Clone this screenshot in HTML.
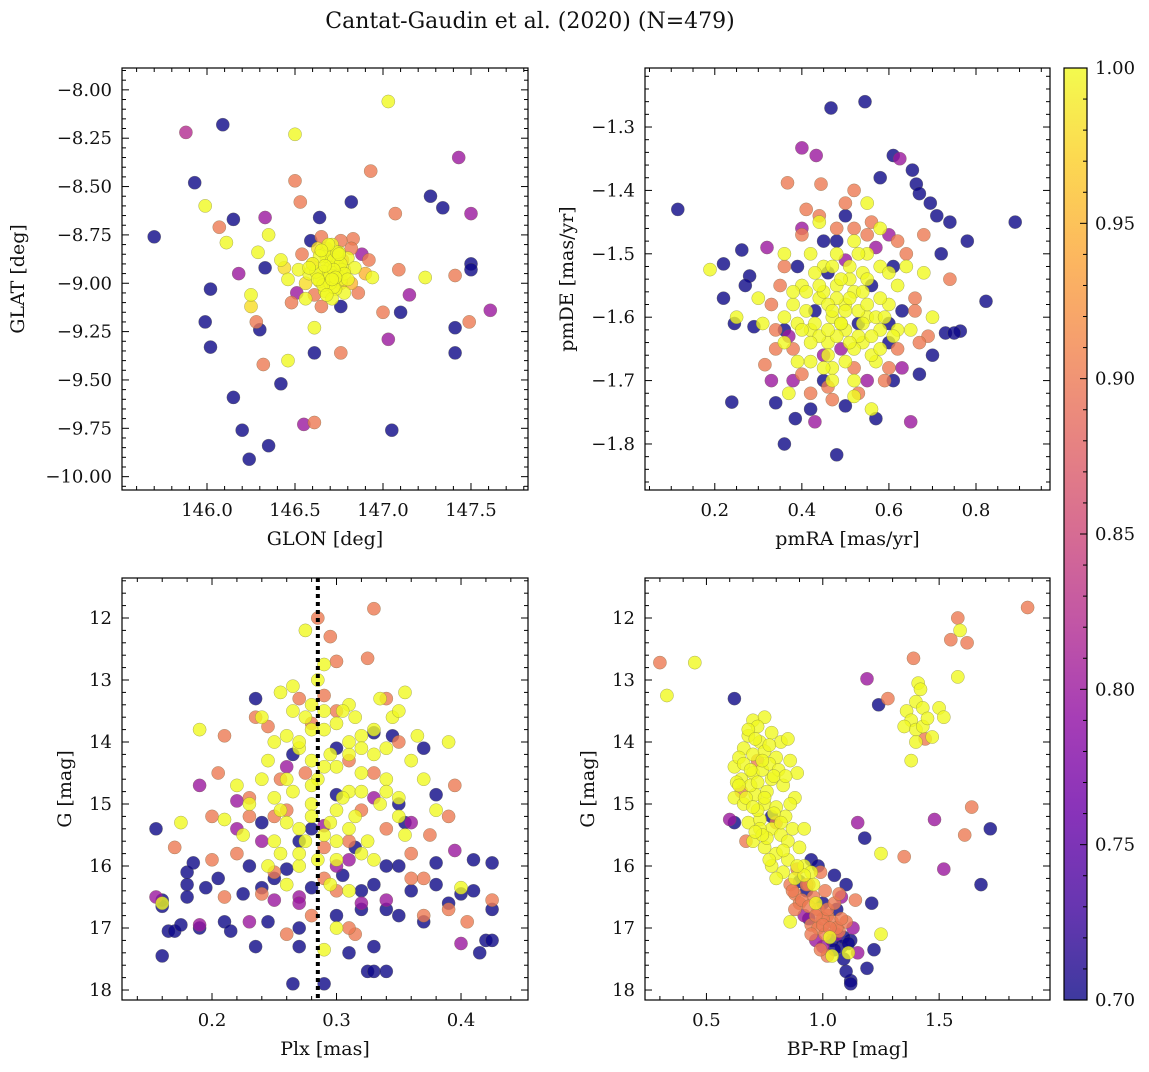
<!DOCTYPE html>
<html><head><meta charset="utf-8">
<style>
html,body{margin:0;padding:0;background:#fff;}
svg text{font-family:"DejaVu Serif","Liberation Serif",serif;fill:#111;}
</style></head>
<body>
<svg id="fig" width="1149" height="1067" viewBox="0 0 1149 1067" xmlns="http://www.w3.org/2000/svg">
<text x="530" y="28" font-size="22" text-anchor="middle">Cantat-Gaudin et al. (2020) (N=479)</text>
</svg>
<script>
// ---------- Panel 1: GLON vs GLAT ----------
const glon = [
145.70,145.88,146.09,145.93,145.99,146.07,146.15,146.11,146.02,146.18,
145.99,146.02,146.25,146.25,146.28,146.15,146.20,146.24,146.35,146.42,
146.32,146.30,146.33,146.35,146.50,146.50,146.53,146.64,146.29,146.33,
146.46,146.55,146.61,146.61,146.61,146.76,146.76,146.94,147.00,147.07,
146.93,146.82,146.83,147.03,147.03,147.05,147.09,147.15,147.10,147.24,
147.27,147.34,147.41,147.41,147.41,147.43,147.50,147.50,147.49,147.50,
147.61,
146.67,146.71,146.75,146.73,146.76,146.69,146.65,146.78,146.80,146.75,
146.63,146.60,146.58,146.56,146.52,146.54,146.59,146.65,146.71,146.76,
146.82,146.84,146.82,146.78,146.73,146.67,146.61,146.56,146.51,146.46,
146.44,146.42,146.48,146.65,146.71,146.86,146.90,146.88,146.92,146.72,
146.68,146.74,146.76,146.70,
146.68,146.70,146.72,146.74,146.66,146.64,146.70,146.76,146.72,146.68,
146.62,146.66,146.74,146.78,146.70,146.64,146.72,146.68,146.60,146.76,
146.58,146.80,146.69,146.73,146.67,146.71,146.75,146.63,146.65,146.77];
const glat = [
-8.76,-8.22,-8.18,-8.48,-8.60,-8.71,-8.67,-8.79,-9.03,-8.95,
-9.20,-9.33,-9.06,-9.12,-9.20,-9.59,-9.76,-9.91,-9.84,-9.52,
-9.42,-9.24,-8.66,-8.75,-8.23,-8.47,-8.58,-8.66,-8.84,-8.92,
-9.40,-9.73,-9.72,-9.36,-9.23,-9.12,-9.36,-8.97,-9.15,-8.64,
-8.42,-8.58,-8.77,-8.06,-9.29,-9.76,-8.93,-9.06,-9.15,-8.97,
-8.55,-8.61,-8.96,-9.23,-9.36,-8.35,-8.64,-8.90,-9.20,-8.93,
-9.14,
-8.85,-8.88,-8.90,-8.95,-8.98,-8.92,-8.97,-8.93,-8.87,-8.84,
-8.82,-8.90,-8.95,-9.00,-8.93,-8.85,-8.78,-8.76,-8.80,-8.78,
-8.82,-8.92,-9.00,-9.05,-9.03,-9.04,-9.06,-9.08,-9.05,-8.98,
-8.92,-8.88,-9.10,-9.12,-9.08,-9.05,-8.95,-8.85,-8.88,-8.98,
-8.89,-8.87,-8.93,-9.00,
-8.86,-8.92,-8.88,-8.96,-8.94,-8.99,-9.00,-8.90,-9.02,-8.82,
-8.94,-9.01,-8.84,-8.95,-8.96,-8.86,-8.93,-9.06,-8.90,-9.00,
-8.92,-8.98,-8.80,-8.97,-8.91,-8.98,-8.85,-8.98,-8.83,-8.88];
const prob1 = [
.7,.82,.7,.7,1,.9,.7,1,.7,.8,
.7,.7,1,.98,.9,.7,.7,.7,.7,.7,
.9,.7,.8,1,1,.9,.9,.7,1,.7,
1,.8,.9,.7,1,.7,.9,1,.9,.9,
.9,.7,.9,1,.8,.7,.9,.8,.7,1,
.7,.7,.9,.7,.7,.8,.8,.7,.9,.7,
.8,
1,1,1,1,1,1,1,1,1,1,
.98,.95,1,.98,1,.9,.7,.9,1,.9,
.9,1,.95,1,1,1,.9,1,.8,1,
.98,1,.9,.9,1,.9,.95,.8,.9,1,
1,1,1,1,
1,1,1,1,1,1,1,1,1,.9,
1,1,1,1,1,1,1,1,1,.95,
1,1,1,1,1,1,1,1,1,.9];

// ---------- Panel 2: pmRA vs pmDE ----------
const pmra = [
0.115,0.467,0.545,0.89,0.823,0.764,0.22,0.262,0.189,0.239,
0.36,0.48,0.444,0.367,0.40,0.654,0.663,0.625,0.433,0.61,
0.22,0.245,0.25,0.29,0.31,0.33,0.315,0.34,0.37,0.385,
0.42,0.43,0.46,0.50,0.52,0.56,0.57,0.61,0.65,0.67,
0.70,0.73,0.75,0.74,0.72,0.71,0.68,0.695,0.67,0.58,
0.52,0.55,0.32,0.28,0.30,0.27,0.36,0.74,0.78,0.70,
0.69,0.60,
0.42,0.45,0.48,0.50,0.52,0.55,0.47,0.44,0.40,0.38,
0.42,0.46,0.50,0.54,0.58,0.60,0.62,0.58,0.55,0.52,
0.48,0.44,0.40,0.36,0.35,0.36,0.38,0.42,0.47,0.52,
0.57,0.62,0.65,0.66,0.64,0.62,0.58,0.50,0.46,0.43,
0.53,0.49,0.56,0.60,0.39,0.37,0.45,0.57,0.63,0.40,
0.45,0.55,0.60,0.67,0.68,0.33,0.34,0.41,0.50,0.54,
0.48,0.51,0.46,0.53,0.44,0.58,0.41,0.62,0.39,0.49,
0.45,0.47,0.49,0.51,0.53,0.55,0.57,0.43,0.41,0.46,
0.48,0.50,0.52,0.54,0.56,0.44,0.42,0.47,0.49,0.51,
0.53,0.55,0.40,0.38,0.59,0.61,0.45,0.47,0.52,0.56,
0.43,0.50,0.58,0.36,0.39,0.60,0.46,0.54,0.48,0.51,
0.44,0.50,0.56,0.60,0.64,0.40,0.36,0.34,0.47,0.53,
0.59,0.63,0.42,0.48,0.38,0.55,0.61,0.66,0.45,0.52];
const pmde = [
-1.43,-1.27,-1.26,-1.45,-1.575,-1.622,-1.516,-1.494,-1.525,-1.734,
-1.80,-1.817,-1.39,-1.388,-1.333,-1.368,-1.39,-1.35,-1.345,-1.345,
-1.57,-1.61,-1.60,-1.615,-1.61,-1.70,-1.675,-1.735,-1.72,-1.76,
-1.745,-1.765,-1.71,-1.74,-1.725,-1.745,-1.76,-1.70,-1.765,-1.69,
-1.66,-1.625,-1.625,-1.54,-1.50,-1.44,-1.47,-1.42,-1.405,-1.38,
-1.40,-1.42,-1.49,-1.535,-1.57,-1.55,-1.62,-1.45,-1.48,-1.60,
-1.63,-1.64,
-1.50,-1.52,-1.55,-1.58,-1.56,-1.60,-1.60,-1.57,-1.55,-1.58,
-1.62,-1.64,-1.62,-1.64,-1.62,-1.58,-1.55,-1.52,-1.50,-1.48,
-1.46,-1.45,-1.47,-1.50,-1.55,-1.60,-1.65,-1.67,-1.68,-1.68,
-1.67,-1.65,-1.62,-1.57,-1.52,-1.48,-1.46,-1.51,-1.53,-1.59,
-1.61,-1.65,-1.55,-1.61,-1.52,-1.63,-1.48,-1.49,-1.59,-1.69,
-1.70,-1.70,-1.68,-1.64,-1.53,-1.58,-1.65,-1.43,-1.44,-1.53,
-1.57,-1.54,-1.58,-1.59,-1.63,-1.57,-1.56,-1.62,-1.61,-1.61,
-1.56,-1.59,-1.61,-1.57,-1.63,-1.58,-1.60,-1.61,-1.59,-1.66,
-1.63,-1.59,-1.65,-1.61,-1.63,-1.55,-1.64,-1.52,-1.54,-1.52,
-1.50,-1.54,-1.62,-1.56,-1.60,-1.63,-1.68,-1.70,-1.70,-1.66,
-1.53,-1.67,-1.65,-1.64,-1.67,-1.53,-1.62,-1.56,-1.50,-1.64,
-1.44,-1.42,-1.45,-1.47,-1.50,-1.46,-1.52,-1.62,-1.73,-1.72,
-1.70,-1.68,-1.72,-1.48,-1.70,-1.47,-1.52,-1.59,-1.66,-1.46];
const prob2 = [
.7,.7,.7,.7,.7,.7,.7,.7,1,.7,
.7,.7,.9,.9,.8,.7,.7,.8,.8,.7,
.7,.7,1,.7,1,.8,.9,.7,1,.7,
.7,.8,.9,.7,1,1,.7,.7,.8,.7,
.7,.7,.7,.9,.7,.7,.9,.7,.7,.7,
.9,1,.8,.7,1,.7,.7,.7,.7,1,
.9,.7,
1,1,1,1,1,1,1,1,1,1,
1,1,1,1,1,1,1,1,1,1,
.9,1,.9,1,.9,1,.9,1,1,.9,
1,.9,1,.9,1,.9,1,.8,.7,.7,
.7,.8,.7,.7,.7,.8,.7,.8,.7,.9,
.7,.8,.9,.9,1,.9,.9,.9,.7,1,
1,1,1,1,1,1,1,1,1,1,
1,1,1,1,1,1,1,1,1,1,
1,1,1,1,1,1,1,1,1,1,
1,1,1,1,1,1,1,1,1,1,
1,1,1,1,1,1,1,1,1,1,
.9,.9,.9,.8,.9,.8,.9,.9,.9,.9,
.9,.8,.9,.7,.8,.9,.7,.9,.8,.9];

// ---------- Panel 3: Plx vs G ----------
const plx = [
0.33,0.285,0.275,0.295,0.30,0.29,0.285,0.29,0.265,0.27,0.335,0.34,0.355,0.31,
0.155,0.16,0.16,0.165,0.16,0.17,0.175,0.18,0.18,0.185,
0.19,0.195,0.205,0.21,0.215,0.23,0.235,0.24,0.245,0.25,
0.265,0.27,0.235,0.265,0.29,0.31,0.325,0.33,0.34,0.35,
0.36,0.37,0.38,0.39,0.40,0.41,0.42,0.425,0.425,0.415,
0.425,0.37,0.33,0.345,0.30,0.30,0.305,0.315,0.32,0.34,
0.30,0.28,0.26,0.27,0.24,0.225,0.35,0.38,0.355,0.32,
0.155,0.19,0.19,0.22,0.23,0.25,0.27,0.40,0.29,0.31,0.33,0.36,0.395,0.34,0.22,0.30,0.26,
0.17,0.20,0.205,0.23,0.24,0.25,0.255,0.28,0.275,0.29,
0.31,0.32,0.33,0.34,0.35,0.36,0.375,0.395,0.405,0.425,
0.39,0.37,0.26,0.21,0.30,0.325,0.235,0.28,0.315,0.245,
0.16,0.175,0.19,0.21,0.22,0.225,0.24,0.245,0.25,0.255,
0.26,0.265,0.27,0.275,0.28,0.28,0.285,0.29,0.295,0.30,
0.30,0.305,0.31,0.315,0.32,0.32,0.325,0.33,0.335,0.34,
0.345,0.35,0.355,0.36,0.365,0.37,0.38,0.39,0.40,0.26,
0.27,0.29,0.30,0.31,0.23,0.245,0.255,0.27,0.285,0.295,
0.305,0.315,0.255,0.265,0.35,0.34,0.275,0.295,0.28,0.32,
0.27,0.28,0.29,0.30,0.31,0.32,0.33,0.26,0.25,0.34,
0.28,0.29,0.30,0.31,0.27,0.32,0.26,0.33,0.29,0.30,
0.28,0.31,0.25,0.35,0.24,
0.22,0.25,0.27,0.29,0.31,0.33,0.36,0.38,0.21,0.24,
0.26,0.28,0.30,0.32,0.34,0.37,0.39,0.23,0.35,0.31,
0.18,0.20,0.41,0.33,0.27];
const gmag3 = [
11.85,12.0,12.2,12.3,12.7,12.75,13.0,13.25,13.1,13.3,13.3,13.3,13.2,13.4,
15.4,16.55,16.65,17.05,17.45,17.05,16.95,16.1,16.3,15.95,
17.0,16.35,16.2,16.9,17.05,16.0,17.3,16.35,16.9,16.2,
17.9,17.3,13.3,14.2,17.9,17.4,17.7,17.7,17.7,16.8,
16.4,16.9,15.95,16.6,16.45,15.9,17.2,17.2,16.7,17.4,
15.95,14.1,13.85,13.9,14.1,14.85,16.15,15.7,16.7,16.0,
16.8,16.35,16.05,15.6,15.3,16.45,15.0,14.85,15.3,16.4,
16.5,14.7,16.95,14.95,16.9,16.55,16.5,17.25,15.35,15.9,14.9,15.3,15.75,16.55,15.4,16.0,14.4,
15.7,15.2,14.5,14.9,16.45,15.2,14.6,13.7,14.5,15.7,
14.3,15.1,14.5,15.4,14.0,16.2,15.5,14.7,16.9,16.55,
16.7,16.2,17.1,13.9,13.5,12.65,13.6,16.8,17.1,13.75,
16.6,15.3,13.8,15.25,14.7,15.5,13.6,14.3,14.0,15.8,
13.9,14.8,14.1,13.6,14.3,15.0,14.6,13.8,15.3,14.4,
15.6,13.5,14.8,15.2,13.9,14.5,15.6,14.2,15.0,14.6,
13.6,15.2,15.5,14.3,13.9,14.6,15.1,14.0,16.35,16.3,
16.0,17.35,17.0,16.4,15.0,16.0,15.1,15.4,15.9,14.2,
14.9,13.6,13.2,13.5,13.5,14.1,15.6,16.3,13.4,15.8,
14.0,13.8,14.4,13.7,14.2,14.1,13.8,14.6,14.9,14.8,
15.2,15.5,15.1,15.4,15.8,14.8,15.3,15.9,13.5,15.9,
14.7,14.0,15.6,14.9,14.6,
15.8,16.1,16.6,16.2,15.6,16.3,15.8,16.3,16.5,15.6,
15.1,15.4,16.4,16.6,16.7,16.8,15.2,15.2,16.0,17.0,
16.5,15.9,16.4,17.3,17.0];
const prob3 = [
.9,.9,1,.9,.9,1,1,.9,1,.9,1,.9,1,1,
.7,.7,.7,.7,.7,.7,.7,.7,.7,.7,
.7,.7,.7,.7,.7,.7,.7,.7,.7,.7,
.7,.7,.7,.7,.7,.7,.7,.7,.7,.7,
.7,.7,.7,.7,.7,.7,.7,.7,.7,.7,
.7,.7,.7,.7,.7,.7,.7,.7,.7,.7,
.7,.7,.7,.7,.7,.7,.7,.7,.7,.7,
.8,.8,.8,.8,.8,.8,.8,.8,.8,.8,.8,.8,.8,.8,.8,.8,.8,
.9,.9,.9,.9,.9,.9,.9,.9,.9,.9,
.9,.9,.9,.9,.9,.9,.9,.9,.9,.9,
.9,.9,.9,.9,.9,.9,.9,.9,.9,.9,
1,1,1,1,1,1,1,1,1,1,
1,1,1,1,1,1,1,1,1,1,
1,1,1,1,1,1,1,1,1,1,
1,1,1,1,1,1,1,1,1,1,
1,1,1,1,1,1,1,1,1,1,
1,1,1,1,1,1,1,1,1,1,
1,1,1,1,1,1,1,1,1,1,
1,1,1,1,1,1,1,1,1,1,
1,1,1,1,1,
.9,.9,.8,.9,.9,.7,.9,.7,.9,.8,
.9,.7,.9,.8,.7,.9,.9,.9,.7,.9,
.7,.9,.7,.7,.7];
const plxLine = [0.285];

// ---------- Panel 4: BP-RP vs G ----------
const bprp = [
0.30,0.45,0.33,0.62,1.88,1.58,1.59,1.55,1.62,1.58,
1.39,1.19,1.28,1.24,1.41,1.42,1.36,1.40,1.43,1.38,
1.35,1.40,1.43,1.45,1.50,1.52,1.47,1.40,1.38,1.44,
1.72,1.68,1.61,1.64,1.48,1.52,1.35,1.25,1.18,1.15,
1.21,1.22,1.25,1.19,1.12,1.10,1.12,1.15,
0.70,0.75,0.72,0.68,0.78,0.73,0.82,0.85,0.66,0.70,
0.75,0.80,0.86,0.89,0.62,0.65,0.70,0.74,0.78,0.83,
0.88,0.62,0.66,0.71,0.75,0.80,0.84,0.68,0.73,0.78,
0.82,0.87,0.70,0.75,0.80,0.85,0.90,0.78,0.83,0.88,
0.92,0.64,0.69,0.77,0.72,0.81,0.76,0.86,0.92,0.95,
0.62,0.60,0.67,0.72,0.80,0.95,0.98,0.94,0.65,0.78,
0.86,0.88,0.90,0.93,0.96,0.98,1.00,1.02,1.04,1.06,
0.92,0.95,0.98,1.01,1.04,1.07,1.10,1.08,1.12,1.05,
1.02,1.09,1.00,0.97,1.13,1.14,1.10,1.05,0.99,0.90,
0.86,0.92,1.03,0.97,1.11,0.88,0.94,1.06,1.00,1.08,
0.68,0.71,0.74,0.77,0.79,0.66,0.69,0.72,0.76,0.84,
0.63,0.67,0.73,0.79,0.85,0.70,0.77,0.83,0.89,0.74,
0.80,0.71,0.64,0.75,0.82,
0.87,0.91,0.94,0.97,1.00,1.03,1.06,1.09,0.95,0.99,
1.02,1.05,1.08,1.11,0.89,0.93,1.01,1.07,0.96,1.04];
const gmag4 = [
12.72,12.72,13.25,13.3,11.83,12.0,12.2,12.35,12.4,12.95,
12.65,12.98,13.3,13.4,13.05,13.15,13.5,13.35,13.45,13.65,
13.75,13.8,13.75,13.62,13.45,13.6,13.92,14.0,14.3,13.95,
15.4,16.3,15.5,15.05,15.25,16.05,15.85,15.8,15.55,15.3,
16.6,17.35,17.1,17.65,17.85,17.7,17.9,17.4,
13.65,13.6,13.75,13.9,13.85,14.0,14.0,13.95,14.1,14.2,
14.15,14.25,14.3,14.5,14.4,14.6,14.5,14.45,14.6,14.7,
14.9,14.9,15.0,14.85,15.0,15.05,15.2,15.3,15.25,15.4,
15.5,15.4,15.6,15.7,15.8,15.9,15.7,16.0,16.1,16.2,
16.0,14.25,14.7,14.35,15.1,14.45,15.55,15.0,15.4,16.1,
15.3,15.25,15.6,14.3,15.3,15.9,16.0,16.3,14.8,15.2,
16.3,16.45,16.6,16.4,16.5,16.7,16.6,16.8,16.9,16.7,
16.8,16.95,17.0,17.1,17.2,17.05,16.9,17.3,17.2,17.35,
17.45,17.5,17.3,17.2,17.0,16.55,16.3,16.15,16.1,16.25,
16.9,16.15,17.15,16.6,17.4,16.7,16.85,17.0,16.85,16.5,
13.8,13.95,14.3,14.05,14.55,14.35,14.45,14.65,14.8,14.55,
14.65,14.9,15.4,15.15,15.6,15.05,15.9,15.75,16.0,15.5,
16.2,15.45,14.7,14.9,15.3,
16.4,16.55,16.65,16.8,16.95,17.0,17.1,17.15,17.1,17.35,
16.7,16.6,16.85,17.25,16.05,16.3,16.4,16.45,16.3,17.45];
const prob4 = [
.9,1,1,.7,.9,.9,1,.9,.9,1,
.9,.8,.9,.7,1,1,1,1,1,1,
1,1,1,1,1,1,1,1,1,.9,
.7,.7,.9,.9,.8,.8,.9,1,.7,.8,
.7,.7,1,.7,.7,.7,.7,.8,
1,1,1,1,1,1,1,1,1,1,
1,1,1,1,1,1,1,1,1,1,
1,1,1,1,1,1,1,1,1,1,
1,1,1,1,1,1,1,1,1,1,
1,1,1,1,1,1,1,1,1,1,
.7,.8,.9,.9,.9,.7,.7,.9,.9,.7,
.9,.9,.9,.7,.9,.9,.7,.9,.9,.7,
.8,.9,.9,.9,.7,.9,.9,.7,.7,.7,
.9,.7,.8,.8,.8,.9,.7,.7,.9,.7,
1,1,1,1,1,.9,.7,.9,.9,.8,
1,1,1,1,1,1,1,1,1,1,
1,1,1,1,1,1,1,1,1,1,
1,1,1,1,1,
.9,.9,.9,.9,.9,.9,.8,.7,.9,.9,
.9,.9,.9,.7,.9,.9,.9,.9,1,1];

// ---------- colorbar ----------
const cbTicks = [0.70,0.75,0.80,0.85,0.90,0.95,1.00];
const cbMin = 0.70, cbMax = 1.00;

// ================= rendering =================
const NS = "http://www.w3.org/2000/svg";
const svg = document.getElementById('fig');
const TICK_FS = 18, LABEL_FS = 19;
const plasmaStops = ["#0d0887","#41049d","#6a00a8","#8f0da4","#b12a90","#cc4778","#e16462","#f2844b","#fca636","#fcce25","#f0f921"];
function hex(h){return [parseInt(h.substr(1,2),16),parseInt(h.substr(3,2),16),parseInt(h.substr(5,2),16)];}
function plasma(t){
  t=Math.max(0,Math.min(1,t));
  const f=t*10, i=Math.min(9,Math.floor(f)), u=f-i;
  const a=hex(plasmaStops[i]), b=hex(plasmaStops[i+1]);
  return 'rgb('+a.map((v,k)=>Math.round(v+(b[k]-v)*u)).join(',')+')';
}
function colorOf(p){return plasma((p-cbMin)/(cbMax-cbMin));}
function el(tag,attrs,parent){const e=document.createElementNS(NS,tag);for(const k in attrs)e.setAttribute(k,attrs[k]);(parent||svg).appendChild(e);return e;}
function lin(d0,d1,r0,r1){return v=>r0+(v-d0)*(r1-r0)/(d1-d0);}
function fmt(v,dec){return (v<0?'\u2212':'')+Math.abs(v).toFixed(dec);}

function panel(cfg){
  const g=el('g',{});
  
  
  const sx=lin(cfg.xd[0],cfg.xd[1],cfg.x0,cfg.x1);
  const sy=lin(cfg.yd[0],cfg.yd[1],cfg.y0,cfg.y1);
  const n=Math.min(cfg.xs.length,cfg.ys.length,cfg.ps.length);
  const idx=[...Array(n).keys()].sort((a,b)=>cfg.ps[a]-cfg.ps[b]);
  const clip=el('clipPath',{id:'clip-'+cfg.name},g);
  el('rect',{x:cfg.x0,y:cfg.y0,width:cfg.x1-cfg.x0,height:cfg.y1-cfg.y0},clip);
  const pg=el('g',{'clip-path':'url(#clip-'+cfg.name+')'},g);
  
  
  idx.forEach(i=>{
    const c=el('circle',{cx:sx(cfg.xs[i]).toFixed(1),cy:sy(cfg.ys[i]).toFixed(1),r:6.6,fill:colorOf(cfg.ps[i]),'fill-opacity':0.8,stroke:'#6a6a40','stroke-width':0.5,'stroke-opacity':0.55},pg);
    
    
  });
  if(cfg.vline){
    const l=el('line',{x1:sx(cfg.vline),x2:sx(cfg.vline),y1:cfg.y0,y2:cfg.y1,stroke:'#000','stroke-width':4,'stroke-dasharray':'4 4'},g);
    
    
  }
  el('rect',{x:cfg.x0,y:cfg.y0,width:cfg.x1-cfg.x0,height:cfg.y1-cfg.y0,fill:'none',stroke:'#000','stroke-width':1.2},g);
  const lo=Math.min(cfg.xd[0],cfg.xd[1]),hi=Math.max(cfg.xd[0],cfg.xd[1]);
  for(let v=Math.ceil(lo/cfg.xminor-1e-6)*cfg.xminor; v<=hi+1e-9; v+=cfg.xminor){
    const major=Math.abs(v/cfg.xmajor-Math.round(v/cfg.xmajor))<1e-6;
    const L=major?7:4, X=sx(v);
    el('line',{x1:X,x2:X,y1:cfg.y1,y2:cfg.y1-L,stroke:'#000','stroke-width':1},g);
    el('line',{x1:X,x2:X,y1:cfg.y0,y2:cfg.y0+L,stroke:'#000','stroke-width':1},g);
    if(major){
      const t=el('text',{x:X,y:cfg.y1+26,'font-size':TICK_FS,'text-anchor':'middle'},g);
      t.textContent=fmt(Math.round(v/cfg.xmajor)*cfg.xmajor,cfg.xdec);
      
      
    }
  }
  const ylo=Math.min(cfg.yd[0],cfg.yd[1]),yhi=Math.max(cfg.yd[0],cfg.yd[1]);
  for(let v=Math.ceil(ylo/cfg.yminor-1e-6)*cfg.yminor; v<=yhi+1e-9; v+=cfg.yminor){
    const major=Math.abs(v/cfg.ymajor-Math.round(v/cfg.ymajor))<1e-6;
    const L=major?7:4, Y=sy(v);
    el('line',{x1:cfg.x0,x2:cfg.x0+L,y1:Y,y2:Y,stroke:'#000','stroke-width':1},g);
    el('line',{x1:cfg.x1,x2:cfg.x1-L,y1:Y,y2:Y,stroke:'#000','stroke-width':1},g);
    if(major){
      const t=el('text',{x:cfg.x0-10,y:Y+6,'font-size':TICK_FS,'text-anchor':'end'},g);
      t.textContent=fmt(Math.round(v/cfg.ymajor)*cfg.ymajor,cfg.ydec);
      
      
    }
  }
  const xl=el('text',{x:(cfg.x0+cfg.x1)/2,y:cfg.y1+55,'font-size':LABEL_FS,'text-anchor':'middle'},g);
  xl.textContent=cfg.xlabel;
  
  
  const yl=el('text',{x:0,y:0,'font-size':LABEL_FS,'text-anchor':'middle',transform:'translate('+cfg.ylx+','+(cfg.y0+cfg.y1)/2+') rotate(-90)'},g);
  yl.textContent=cfg.ylabel;
  
  
}

panel({name:'glon-glat-panel',xs:glon,ys:glat,ps:prob1,x0:122,x1:528,y0:68,y1:490,
  xd:[145.517,147.824],yd:[-7.887,-10.069],xmajor:0.5,xminor:0.1,ymajor:0.25,yminor:0.05,xdec:1,ydec:2,
  xlabel:'GLON [deg]',ylabel:'GLAT [deg]',ylx:24});
panel({name:'proper-motion-panel',xs:pmra,ys:pmde,ps:prob2,x0:645,x1:1050,y0:68,y1:490,
  xd:[0.0397,0.970],yd:[-1.2069,-1.8726],xmajor:0.2,xminor:0.05,ymajor:0.1,yminor:0.02,xdec:1,ydec:1,
  xlabel:'pmRA [mas/yr]',ylabel:'pmDE [mas/yr]',ylx:573});
panel({name:'parallax-mag-panel',xs:plx,ys:gmag3,ps:prob3,x0:122,x1:528,y0:578,y1:1000,
  xd:[0.1277,0.4538],yd:[11.355,18.161],xmajor:0.1,xminor:0.02,ymajor:1,yminor:0.2,xdec:1,ydec:0,
  xlabel:'Plx [mas]',ylabel:'G [mag]',ylx:71,vline:plxLine[0]});
panel({name:'cmd-panel',xs:bprp,ys:gmag4,ps:prob4,x0:645,x1:1050,y0:578,y1:1000,
  xd:[0.236,1.9764],yd:[11.355,18.161],xmajor:0.5,xminor:0.1,ymajor:1,yminor:0.2,xdec:1,ydec:0,
  xlabel:'BP-RP [mag]',ylabel:'G [mag]',ylx:594});

(function(){
  const x0=1064,x1=1087,y0=68,y1=1000;
  const defs=el('defs',{});
  const grad=el('linearGradient',{id:'cbgrad',x1:0,y1:1,x2:0,y2:0},defs);
  plasmaStops.forEach((c,i)=>el('stop',{offset:(i/10),'stop-color':c},grad));
  const g=el('g',{});
  
  
  el('rect',{x:x0,y:y0,width:x1-x0,height:y1-y0,fill:'url(#cbgrad)','fill-opacity':0.8},g);
  el('rect',{x:x0,y:y0,width:x1-x0,height:y1-y0,fill:'none',stroke:'#000','stroke-width':1.2},g);
  const sy=lin(cbMin,cbMax,y1,y0);
  for(let k=0;k<=30;k++){
    const v=cbMin+k*0.01, Y=sy(v), major=k%5===0;
    el('line',{x1:x1,x2:x1-(major?7:4),y1:Y,y2:Y,stroke:'#000','stroke-width':1},g);
  }
  cbTicks.forEach(v=>{
    const t=el('text',{x:x1+8,y:sy(v)+6,'font-size':TICK_FS},g);
    t.textContent=v.toFixed(2);
    
    
  });
})();
</script>
</body></html>
